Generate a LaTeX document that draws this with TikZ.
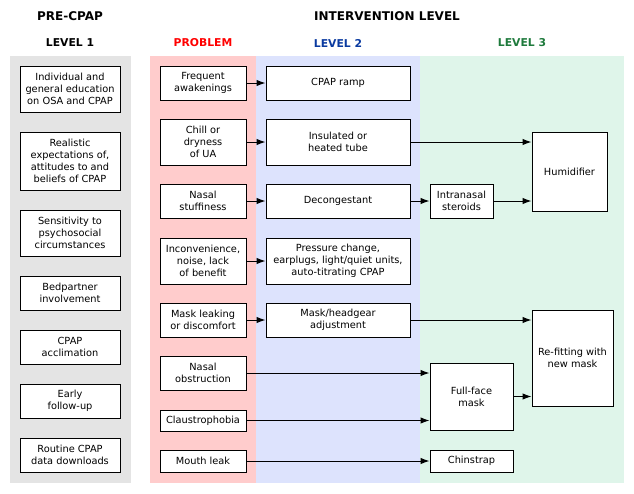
\documentclass[tikz,border=0pt]{standalone}
\usepackage{fontspec}
\setmainfont{DejaVu Sans}
\usepackage{xcolor}
\usepackage{tikz}
\usetikzlibrary{arrows.meta}

\definecolor{greyband}{HTML}{E4E4E4}
\definecolor{pinkband}{HTML}{FFCCCC}
\definecolor{blueband}{HTML}{DDE3FD}
\definecolor{greenband}{HTML}{DFF5EA}
\definecolor{probred}{HTML}{FF0000}
\definecolor{levblue}{HTML}{0A3AA0}
\definecolor{levgreen}{HTML}{1E7A3C}

\tikzset{
    box/.style = {draw, line width=1pt, fill=white, align=center, inner sep=1pt,
                  font=\fontsize{9.8}{12}\selectfont},
    head/.style = {font=\fontsize{12}{14}\selectfont\bfseries},
    level/.style = {font=\fontsize{10.8}{13}\selectfont\bfseries},
    arr/.style = {line width=1pt, -{Latex[length=9pt,width=6.5pt]}}
}

\begin{document}
\begin{tikzpicture}[x=1pt, y=-1pt]
    \useasboundingbox (0, 0) rectangle (634, 493);

    % colour bands
    \fill[greyband] (10, 56) rectangle (131, 483);
    \fill[pinkband] (150, 56) rectangle (256, 483);
    \fill[blueband] (256, 56) rectangle (420, 483);
    \fill[greenband] (420, 56) rectangle (624, 483);

    % headings
    \node[head] (pre) at (70, 16) {PRE-CPAP};
    \node[head] (inter) at (387, 16) {INTERVENTION LEVEL};
    \node[level] (lev1) at (70, 43) {LEVEL 1};
    \node[level, text=probred] (prob) at (203, 43) {PROBLEM};
    \node[level, text=levblue] (lev2) at (338, 43) {LEVEL 2};
    \node[level, text=levgreen] (lev3) at (522, 43) {LEVEL 3};

    % level 1
    \node[box, minimum width=100pt, minimum height=46pt] (edu) at (70, 89) {Individual and\\general education\\on OSA and CPAP};
    \node[box, minimum width=100pt, minimum height=58pt] (real) at (70, 161) {Realistic\\expectations of,\\attitudes to and\\beliefs of CPAP};
    \node[box, minimum width=100pt, minimum height=46pt] (sens) at (70, 233) {Sensitivity to\\psychosocial\\circumstances};
    \node[box, minimum width=100pt, minimum height=34pt] (bed) at (70, 293) {Bedpartner\\involvement};
    \node[box, minimum width=100pt, minimum height=34pt] (accl) at (70, 347) {CPAP\\acclimation};
    \node[box, minimum width=100pt, minimum height=34pt] (follow) at (70, 401) {Early\\follow-up};
    \node[box, minimum width=100pt, minimum height=34pt] (down) at (70, 455) {Routine CPAP\\data downloads};

    % problems
    \node[box, minimum width=86pt, minimum height=34pt] (awake) at (203, 83) {Frequent\\awakenings};
    \node[box, minimum width=86pt, minimum height=46pt] (chill) at (203, 142) {Chill or\\dryness\\of UA};
    \node[box, minimum width=86pt, minimum height=34pt] (stuff) at (203, 201) {Nasal\\stuffiness};
    \node[box, minimum width=86pt, minimum height=46pt] (incon) at (203, 261) {Inconvenience,\\noise, lack\\of benefit};
    \node[box, minimum width=86pt, minimum height=34pt] (leak) at (203, 320) {Mask leaking\\or discomfort};
    \node[box, minimum width=86pt, minimum height=34pt] (obstr) at (203, 373) {Nasal\\obstruction};
    \node[box, minimum width=86pt, minimum height=21pt] (claus) at (203, 420.5) {Claustrophobia};
    \node[box, minimum width=86pt, minimum height=22pt] (mouth) at (203, 461) {Mouth leak};

    % level 2
    \node[box, minimum width=144pt, minimum height=34pt] (ramp) at (338, 83) {CPAP ramp};
    \node[box, minimum width=144pt, minimum height=46pt] (tube) at (338, 142) {Insulated or\\heated tube};
    \node[box, minimum width=144pt, minimum height=34pt] (decon) at (338, 201) {Decongestant};
    \node[box, minimum width=144pt, minimum height=46pt] (press) at (338, 261) {Pressure change,\\earplugs, light/quiet units,\\auto-titrating CPAP};
    \node[box, minimum width=144pt, minimum height=34pt] (adjust) at (338, 320) {Mask/headgear\\adjustment};

    % level 3
    \node[box, minimum width=63pt, minimum height=34pt] (steroid) at (461.5, 201) {Intranasal\\steroids};
    \node[box, minimum width=75pt, minimum height=79pt] (humid) at (569.5, 171.5) {Humidifier};
    \node[box, minimum width=81pt, minimum height=96pt] (refit) at (572.5, 358) {Re-fitting with\\new mask};
    \node[box, minimum width=83pt, minimum height=67pt] (face) at (471.5, 396.5) {Full-face\\mask};
    \node[box, minimum width=83pt, minimum height=22pt] (chin) at (471.5, 461) {Chinstrap};

    % connectors
    \draw[arr] (awake) -- (ramp);
    \draw[arr] (chill) -- (tube);
    \draw[arr] (stuff) -- (decon);
    \draw[arr] (incon) -- (press);
    \draw[arr] (leak) -- (adjust);
    \draw[arr] (tube.east) -- (tube.east -| humid.west);
    \draw[arr] (decon) -- (steroid);
    \draw[arr] (steroid.east) -- (steroid.east -| humid.west);
    \draw[arr] (adjust.east) -- (adjust.east -| refit.west);
    \draw[arr] (obstr.east) -- (obstr.east -| face.west);
    \draw[arr] (claus.east) -- (claus.east -| face.west);
    \draw[arr] (mouth) -- (chin);
    \draw[arr] (face.east) -- (face.east -| refit.west);
\end{tikzpicture}
\end{document}
